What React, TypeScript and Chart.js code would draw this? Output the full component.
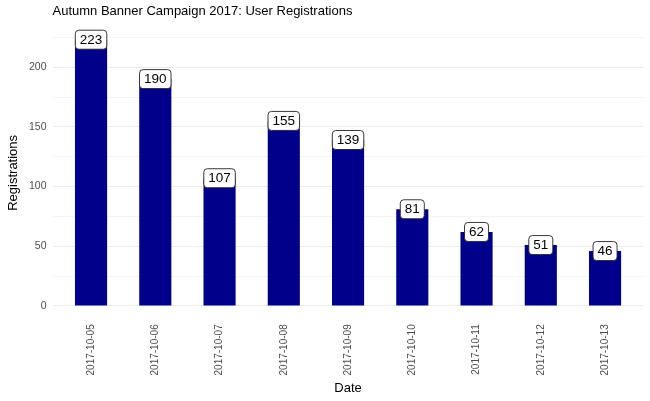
import React, { useEffect, useRef } from "react";
import { Chart, registerables } from "chart.js";

Chart.register(...registerables);

const titleText = "Autumn Banner Campaign 2017: User Registrations";
const xTitle = "Date";
const yTitle = "Registrations";
const dates = [
  "2017-10-05",
  "2017-10-06",
  "2017-10-07",
  "2017-10-08",
  "2017-10-09",
  "2017-10-10",
  "2017-10-11",
  "2017-10-12",
  "2017-10-13",
];
const registrations = [223, 190, 107, 155, 139, 81, 62, 51, 46];
const yTicks = [0, 25, 50, 75, 100, 125, 150, 175, 200, 225];
const yLabelStep = 50;

const FONT = "'Liberation Sans', Arial, Helvetica, sans-serif";

export default function App() {
  const ref = useRef<HTMLCanvasElement | null>(null);

  useEffect(() => {
    const canvas = ref.current;
    if (!canvas) return;
    const maxVal = Math.max(...registrations);
    const pad = maxVal * 0.05;

    const labelPlugin = {
      id: "labelsAndTitles",
      afterDatasetsDraw(chart: any) {
        const ctx = chart.ctx as CanvasRenderingContext2D;
        const meta = chart.getDatasetMeta(0);
        ctx.save();
        ctx.font = `13.5px ${FONT}`;
        ctx.textAlign = "center";
        ctx.textBaseline = "middle";
        meta.data.forEach((el: any, i: number) => {
          const txt = String(registrations[i]);
          const w = ctx.measureText(txt).width + 9;
          const h = 19;
          const x = el.x - w / 2;
          const y = el.y - h / 2;
          ctx.beginPath();
          ctx.roundRect(x, y, w, h, 3.5);
          ctx.fillStyle = "#ffffff";
          ctx.fill();
          ctx.lineWidth = 0.9;
          ctx.strokeStyle = "#222222";
          ctx.stroke();
          ctx.fillStyle = "#000000";
          ctx.fillText(txt, el.x, el.y + 0.5);
        });
        ctx.restore();
      },
      afterDraw(chart: any) {
        const ctx = chart.ctx as CanvasRenderingContext2D;
        const a = chart.chartArea;
        ctx.save();
        ctx.fillStyle = "#000000";
        ctx.font = `13px ${FONT}`;
        ctx.textAlign = "left";
        ctx.textBaseline = "middle";
        ctx.fillText(titleText, a.left, 11);
        ctx.textAlign = "center";
        ctx.fillText(xTitle, (a.left + a.right) / 2, 388);
        ctx.translate(13, (a.top + a.bottom) / 2);
        ctx.rotate(-Math.PI / 2);
        ctx.fillText(yTitle, 0, 0);
        ctx.restore();
      },
    };

    const chart = new Chart(canvas, {
      type: "bar",
      data: {
        datasets: [
          {
            data: registrations.map((v, i) => ({ x: i + 1, y: v })),
            backgroundColor: "#00008B",
            borderWidth: 0,
            barPercentage: 0.5,
            categoryPercentage: 1,
          },
        ],
      },
      options: {
        responsive: false,
        animation: false,
        devicePixelRatio: 1,
        layout: { padding: { top: 26.4, right: 6.4, left: 0, bottom: 0 } },
        plugins: {
          legend: { display: false },
          tooltip: { enabled: false },
          title: { display: false },
        },
        scales: {
          x: {
            type: "linear",
            offset: false,
            min: 0.4,
            max: dates.length + 0.6,
            afterBuildTicks: (scale: any) => {
              scale.ticks = dates.map((_, i) => ({ value: i + 1 }));
            },
            afterFit: (scale: any) => {
              scale.height = 81.7;
            },
            grid: { display: false, drawTicks: false, offset: false },
            border: { display: false },
            ticks: {
              autoSkip: false,
              minRotation: 90,
              maxRotation: 90,
              padding: 5,
              color: "#4D4D4D",
              font: { family: FONT, size: 10 },
              callback: (v: any) => dates[Math.round(Number(v)) - 1] ?? "",
            },
          },
          y: {
            type: "linear",
            min: -pad,
            max: maxVal + pad,
            afterBuildTicks: (scale: any) => {
              scale.ticks = yTicks.map((v) => ({ value: v }));
            },
            afterFit: (scale: any) => {
              scale.width = 52.5;
            },
            grid: {
              drawTicks: false,
              color: "#EBEBEB",
              lineWidth: (c: any) =>
                c.tick && c.tick.value % yLabelStep === 0 ? 1.1 : 0.55,
            },
            border: { display: false },
            ticks: {
              padding: 6,
              color: "#4D4D4D",
              font: { family: FONT, size: 10.5 },
              callback: (v: any) =>
                Number(v) % yLabelStep === 0 ? String(v) : "",
            },
          },
        },
      },
      plugins: [labelPlugin],
    } as any);

    return () => chart.destroy();
  }, []);

  return (
    <div style={{ position: "absolute", left: 0, top: 0, width: 650, height: 401, background: "#fff" }}>
      <canvas ref={ref} width={650} height={401} />
    </div>
  );
}
